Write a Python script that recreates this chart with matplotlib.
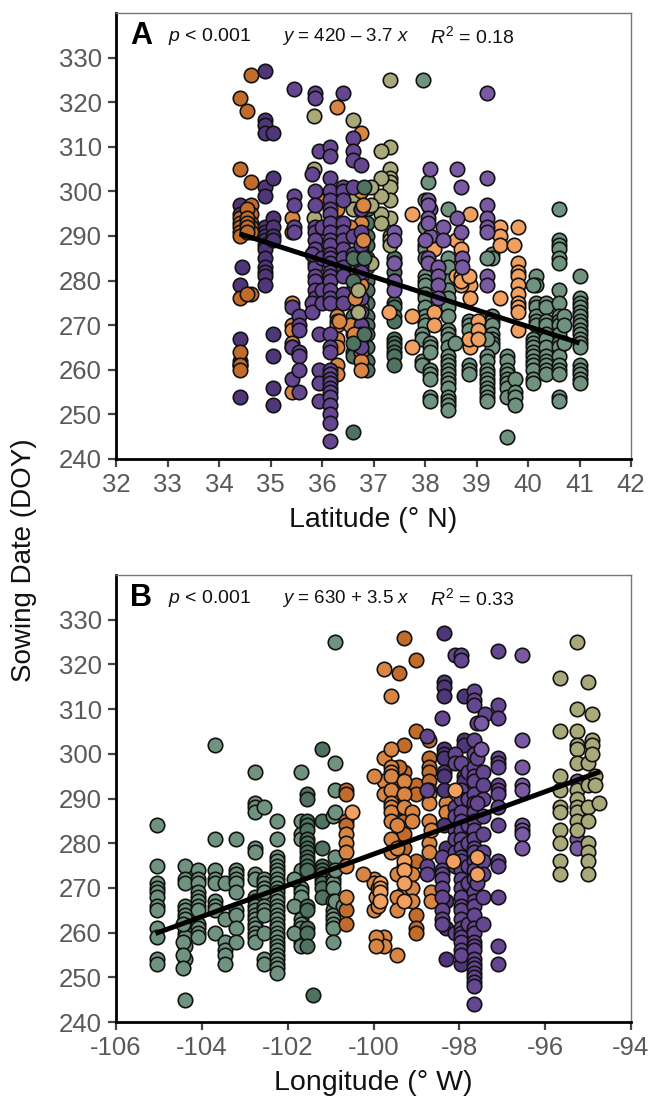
import matplotlib
matplotlib.use("Agg")
import matplotlib.pyplot as plt

plt.rcParams["font.family"] = ["Liberation Sans", "DejaVu Sans"]
plt.rcParams["mathtext.fontset"] = "custom"
plt.rcParams["mathtext.rm"] = "Liberation Sans"
plt.rcParams["mathtext.it"] = "Liberation Sans:italic"
plt.rcParams["mathtext.bf"] = "Liberation Sans:bold"

GREEN_DK = "#4f7360"
GREEN = "#618672"
GREEN_LT = "#70937f"
PURPLE_DK = "#4f3678"
PURPLE = "#654690"
PURPLE_LT = "#7a5aa3"
ORANGE_DK = "#c26c2c"
ORANGE = "#d98644"
ORANGE_LT = "#f2a060"
OLIVE = "#a9a97a"

# Panel A: latitude column -> sowing dates
A_GREEN_LT = [
    (37.97, [325]), (38.05, [302]),
    (38.0, [298, 292, 288, 287, 285, 281, 280, 279, 277, 276, 274, 272, 271, 270]),
    (37.95, [268, 267, 262, 261]), (38.1, [266, 265, 264, 260, 259, 258, 254, 253]),
    (38.45, [296, 285, 283, 280, 278, 276, 274, 272, 269, 268, 267, 265, 263, 262, 261, 260, 259, 258, 257, 256, 254, 253, 252, 251]),
    (38.58, [266]), (38.85, [271, 270, 269, 261, 260, 259]),
    (39.3, [286, 285, 272, 271, 270, 268, 267, 266, 265]),
    (39.2, [285, 267, 263, 262, 260, 259, 258, 257, 256, 255, 254, 253]),
    (39.6, [263, 262, 260, 259, 258, 257, 256, 254, 245]), (39.75, [258, 255, 254, 252]),
    (40.15, [281, 279, 275, 274, 272, 271, 270]),
    (40.1, [279, 267, 266, 265, 264, 263, 262, 261, 260, 258, 257]),
    (40.35, [275, 274, 271, 270, 268, 267, 265, 263, 262, 261, 260, 259]),
    (40.6, [296, 289, 288, 287, 285, 284, 278, 275, 272, 271, 270, 268, 266, 265, 263, 261, 260, 259, 254, 253]),
    (40.7, [272, 270, 266]),
    (41.0, [281, 276, 275, 274, 273, 272, 271, 270, 269, 268, 267, 266, 265, 261, 260, 259, 258, 257]),
]
A_GREEN_DK = [
    (36.6, [287, 285, 281, 278, 275, 272, 270, 268, 264, 263, 246]),
    (36.75, [300, 292, 289, 285, 283, 281, 279, 277, 275, 273, 271, 269, 266, 264, 262]),
    (36.88, [296, 293, 290, 288, 285, 283, 280, 278, 275, 272, 270, 268, 265, 262, 260]),
    (37.4, [285, 284, 282, 280, 275, 274, 272, 271, 267, 266, 265, 264, 263, 261]),
]
A_OLIVE = [
    (37.33, [325, 310, 305, 303, 302, 301, 298, 294, 290, 289, 288]),
    (37.15, [309, 303, 299, 295, 293]),
    (35.85, [317, 305, 294, 275]),
    (36.6, [316, 298, 296, 287]),
    (36.95, [301, 297, 284]),
]
A_ORANGE_DK = [
    (34.63, [326, 302, 297, 295, 293, 292, 291, 277]),
    (34.4, [321, 305, 294, 293, 292, 291, 290, 276, 264, 261, 260]),
    (34.55, [318, 296, 294, 293, 292, 291, 277]),
]
A_ORANGE = [
    (35.42, [294, 291, 275, 270, 269, 266, 265, 255]),
    (36.3, [319, 299, 296, 292, 290, 288, 285, 272, 271, 270, 267, 265, 261, 259]),
    (36.75, [313, 300, 296, 293, 289, 287, 284, 281, 279, 276, 274, 270, 267, 264, 262, 260]),
    (35.95, [288, 298]), (36.55, [292, 285, 270]),
]
A_ORANGE_LT = [
    (37.75, [295, 272, 265]), (37.3, [273]), (38.87, [295, 279, 276, 266, 265]),
    (39.45, [292, 290, 288, 276]), (39.8, [292, 284, 282, 281, 279, 277, 275, 274, 273, 269]),
    (39.73, [288]), (38.6, [289, 281]), (38.17, [287, 273, 270]),
    (38.7, [287, 281, 279, 280]), (38.85, [281, 267]), (39.03, [271, 269, 267]),
]
A_PURPLE_DK = [
    (34.4, [297, 295, 279, 267, 262, 261, 254]),
    (34.45, [283]),
    (34.9, [327, 316, 315, 313, 301, 299, 292, 291, 290, 289, 288, 287, 285, 283, 282, 281, 279]),
    (35.05, [313, 303, 294, 292, 290, 289, 268, 263, 256, 252]),
]
A_PURPLE = [
    (35.45, [323, 299, 297, 292, 291]), (35.42, [274, 265, 258]),
    (35.55, [272, 270, 269, 264, 263, 260, 255]),
    (35.87, [322, 321, 300, 297, 292, 291, 289, 287, 284, 283, 281, 280, 278, 276]),
    (35.8, [304, 286, 275, 273]), (35.95, [309, 268, 260, 257, 253]),
    (36.0, [292, 285, 278, 275]),
    (36.15, [310, 308, 303, 300, 298, 296, 295, 293, 291, 289, 288, 286, 285, 284, 282, 281, 280, 278, 276, 275, 268,
             265, 264, 260, 259, 258, 257, 256, 255, 254, 252, 250, 248, 244]),
    (36.4, [322, 301, 300, 298, 293, 291, 289, 287, 285, 283, 281, 277, 275]),
    (36.6, [312, 309, 307, 301, 290, 286]),
    (36.75, [306, 296, 291, 288, 283, 282, 276, 273, 270, 268, 265]),
]
# points that sit on top of the purple mass around 36.3-36.9
A_TOP_GREEN = [(36.61, [285, 280, 266]), (36.82, [301, 285, 268])]
A_TOP_ORANGE = [(36.8, [297, 289]), (36.65, [276]), (36.33, [271]), (36.62, [268])]
A_TOP_OLIVE = [(36.69, [278, 273])]
A_PURPLE_LT = [
    (38.1, [305, 296, 290]), (38.62, [305, 294]), (38.7, [301, 291]),
    (39.2, [322, 303, 297, 294, 292, 291, 281, 279]),
    (38.05, [298, 297, 294, 293, 285, 284]), (38.35, [292, 289]), (38.0, [289]), (38.72, [285, 283]),
    (37.4, [291, 289, 284, 280, 278]), (38.25, [283, 281, 279, 276]),
]
A_LINE_X = [34.4, 41.0]
A_LINE_Y = [290.5, 266.0]

# Panel B: longitude column -> sowing dates
B_GREEN = [
    (-105.05, [284, 275, 271, 270, 269, 268, 266, 265, 261, 259, 254, 253]),
    (-104.4, [275, 272, 271, 266, 265, 264, 263, 260, 259, 257, 254, 245]),
    (-104.45, [262, 258, 255, 252]),
    (-104.1, [274, 272, 271, 269, 268, 267, 266, 265, 262, 261, 260, 259]),
    (-103.7, [302, 281, 274, 272, 271, 267, 266, 265, 260]),
    (-103.45, [271, 263, 258, 256, 255, 253]),
    (-103.2, [281, 274, 273, 272, 271, 269, 265, 264, 261, 258]),
    (-102.75, [296, 289, 288, 287, 279, 278, 273, 272, 268, 267, 266, 265, 264, 263, 262, 261, 260, 259, 258]),
    (-102.55, [288, 272, 271, 270, 269, 266, 265, 264, 260, 254, 253]),
    (-102.25, [285, 281, 277, 276, 275, 274, 273, 272, 271, 270, 269, 268, 267, 266, 265, 264, 263, 262, 261, 260, 259, 258, 257, 256, 255, 254, 253, 252, 251]),
    (-101.7, [296, 285, 282, 281, 274, 270, 269, 268, 265, 263, 262, 261, 258, 257]),
    (-101.85, [272, 266, 260]),
]
B_GREEN_DK = [
    (-101.55, [291, 290, 285, 284, 283, 281, 280, 279, 278, 277, 276, 275, 274, 266, 265, 261, 260, 257]),
    (-101.4, [246]),
    (-101.2, [301, 285, 279, 275, 274, 273, 272, 271, 270, 268]),
]
B_GREEN_LT = [
    (-100.95, [286, 273, 272, 271, 270, 267, 265, 264, 263, 262, 261, 258]),
    (-100.9, [325, 298, 292, 287, 277, 274, 267]),
    (-100.7, [266]),
]
B_ORANGE_DK = [
    (-99.3, [326, 302, 296, 285, 282, 279]), (-99.0, [321, 305, 293, 291, 276, 264, 261, 260]),
    (-99.4, [318, 297, 293, 288]), (-100.65, [292, 291, 285, 284, 265, 262]),
    (-98.7, [303, 299, 297, 296, 294, 292]),
]
B_ORANGE = [
    (-99.75, [319, 299, 294, 291, 259, 257]), (-99.6, [313, 301, 297, 296, 295, 292, 289, 288, 287, 285, 281, 278]),
    (-100.0, [295, 272, 271, 265]), (-100.25, [273]), (-99.3, [294, 291, 288, 275, 272, 269]),
    (-99.1, [287, 285, 273, 270, 267]), (-98.7, [291, 289, 285, 280, 278]), (-100.65, [282, 280, 278, 275, 268]),
    (-99.45, [284, 279, 273, 268, 265, 255]), (-98.65, [283, 269, 267]), (-99.95, [259, 257, 268]),
    (-98.3, [289, 287]), (-99.9, [266, 270]),
]
B_PURPLE_DK = [
    (-98.35, [327, 316, 315, 313, 301, 300, 299, 296, 295, 292, 284]),
    (-97.9, [313, 303, 302, 295, 294]),
    (-98.3, [279, 267, 261, 254]), (-97.95, [253]),
]
B_PURPLE = [
    (-98.4, [308, 277, 274, 273, 272, 270, 268, 265, 263, 262]), (-98.75, [304, 292, 275, 273]),
    (-98.1, [322, 300, 298, 288, 286, 283, 281, 278, 275, 260]),
    (-97.95, [322, 321, 298, 292, 290, 287, 285, 283, 281, 279, 277, 276, 274, 272, 270, 268, 266, 265, 263, 261, 260, 259, 258, 256, 255]),
    (-97.8, [296, 290, 284, 280, 275, 271, 262]),
    (-97.65, [314, 312, 311, 303, 300, 297, 295, 294, 291, 289, 287, 285, 283, 281, 279, 278, 276, 274, 272, 269, 267, 266, 264, 261, 260, 258, 257, 256, 254, 253, 252, 251, 250, 249, 248, 244]),
    (-97.45, [296, 293, 290, 286, 282, 278, 276, 273, 268, 262]), (-97.6, [307, 299, 289, 271]),
    (-97.4, [309]), (-97.1, [323, 311, 308, 299, 298, 297, 293, 292, 291, 288, 284, 276, 275, 268, 257, 253]),
]
B_PURPLE_LT = [
    (-97.5, [301, 307]), (-96.55, [322, 303, 297, 293, 292, 284, 283, 282, 279]),
    (-95.25, [294, 281, 279]),
]
B_ORANGE_LT = [
    (-100.5, [287]), (-99.3, [276, 274, 271, 267]), (-99.85, [271, 270, 269, 267]),
    (-98.1, [292]), (-98.15, [276]), (-97.6, [277, 273]),
]
B_OLIVE = [
    (-95.25, [325, 310, 305, 302, 301, 298, 292, 290, 288, 287, 285, 283]),
    (-95.65, [317, 305, 295, 292, 288, 287, 283, 280, 276, 273]),
    (-95.0, [316, 298, 293, 288, 285, 280, 278, 276, 273]),
    (-94.9, [309, 303, 302, 300]),
    (-94.85, [295, 293]),
    (-94.75, [289]),
]
B_LINE_X = [-105.08, -94.72]
B_LINE_Y = [259.8, 296.0]

A_LAYERS = [
    (A_GREEN_LT, GREEN_LT), (A_GREEN_DK, GREEN_DK), (A_OLIVE, OLIVE),
    (A_ORANGE_LT, ORANGE_LT), (A_ORANGE, ORANGE), (A_PURPLE_LT, PURPLE_LT),
    (A_PURPLE_DK, PURPLE_DK), (A_ORANGE_DK, ORANGE_DK), (A_PURPLE, PURPLE),
    (A_TOP_ORANGE, ORANGE), (A_TOP_GREEN, GREEN_DK), (A_TOP_OLIVE, OLIVE),
]
B_LAYERS = [
    (B_GREEN, GREEN_LT), (B_GREEN_DK, GREEN_DK), (B_GREEN_LT, GREEN_LT),
    (B_ORANGE_DK, ORANGE_DK), (B_ORANGE, ORANGE), (B_PURPLE_DK, PURPLE_DK),
    (B_PURPLE, PURPLE), (B_PURPLE_LT, PURPLE_LT), (B_ORANGE_LT, ORANGE_LT),
    (B_OLIVE, OLIVE),
]

W, H = 649, 1099
YTICKS = list(range(240, 340, 10))


def draw_panel(ax, layers, line_x, line_y, letter, eq, r2):
    for columns, color in layers:
        xs = [x for x, ys in columns for _ in ys]
        ys = [y for _, col in columns for y in col]
        ax.scatter(xs, ys, s=108, color=color, edgecolors="#111111", linewidths=1.2,
                   zorder=3, clip_on=False)
    ax.plot(line_x, line_y, color="black", linewidth=3.6, zorder=4, solid_capstyle="butt")

    ax.set_ylim(240, 340)
    ax.set_yticks(YTICKS)
    ax.spines["top"].set_color("#777777")
    ax.spines["right"].set_color("#777777")
    ax.spines["top"].set_linewidth(1)
    ax.spines["right"].set_linewidth(1)
    ax.spines["left"].set_linewidth(2)
    ax.spines["bottom"].set_linewidth(2)
    ax.tick_params(length=6, width=1.6, color="#444444", labelcolor="#595959",
                   labelsize=18.5, pad=4)

    ax.text(0.027, 0.948, letter, transform=ax.transAxes, fontsize=22, fontweight="bold",
            ha="left", va="center", color="black")
    ax.text(0.101, 0.948, r"$p$ < 0.001", transform=ax.transAxes, fontsize=14,
            ha="left", va="center", color="#111111")
    ax.text(0.323, 0.948, eq, transform=ax.transAxes, fontsize=13.5,
            ha="left", va="center", color="#111111")
    ax.text(0.609, 0.948, r2, transform=ax.transAxes, fontsize=14,
            ha="left", va="center", color="#111111")


fig = plt.figure(figsize=(W / 100, H / 100), dpi=100)
ax_a = fig.add_axes([116 / W, 1 - 459 / H, 515 / W, 446 / H])
ax_b = fig.add_axes([116 / W, 1 - 1022 / H, 515 / W, 447 / H])

draw_panel(ax_a, A_LAYERS, A_LINE_X, A_LINE_Y, "A", r"$y$ = 420 – 3.7 $x$", r"$R^2$ = 0.18")
ax_a.set_xlim(32, 42)
ax_a.set_xticks(range(32, 43))
ax_a.set_xlabel("Latitude (° N)", fontsize=20.5, color="#111111", labelpad=7)

draw_panel(ax_b, B_LAYERS, B_LINE_X, B_LINE_Y, "B", r"$y$ = 630 + 3.5 $x$", r"$R^2$ = 0.33")
ax_b.set_xlim(-106, -94)
ax_b.set_xticks(range(-106, -93, 2))
ax_b.set_xticklabels([f"-{abs(v)}" for v in range(-106, -93, 2)])
ax_b.set_xlabel("Longitude (° W)", fontsize=20.5, color="#111111", labelpad=7)

fig.text(24 / W, 1 - 560 / H, "Sowing Date (DOY)", rotation=90, fontsize=20,
         ha="center", va="center", color="#111111")

fig.savefig("out.png", dpi=100)
